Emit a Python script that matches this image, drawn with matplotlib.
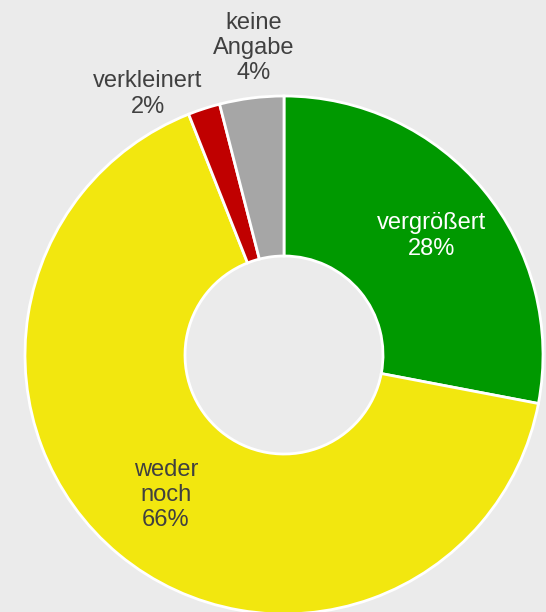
import matplotlib
matplotlib.use("Agg")
import matplotlib.pyplot as plt

categories = ["vergrößert", "weder\nnoch", "verkleinert", "keine\nAngabe"]
values = [28, 66, 2, 4]
colors = ["#009900", "#f2e70f", "#c00000", "#a6a6a6"]
text_colors = ["white", "#404040", "#404040", "#404040"]
# label positions in pixel coords (x, y from top)
label_px = [(432, 236), (166, 495), (148, 94), (254, 48)]

W, H = 546, 612
cx, cy, R, r_in = 284, 355, 259, 99
bg = "#ebebeb"

plt.rcParams['font.family'] = ['Liberation Sans', 'DejaVu Sans']
fig = plt.figure(figsize=(W / 100, H / 100), dpi=100, facecolor=bg)
ax = fig.add_axes([0, 0, 1, 1])
ax.set_facecolor(bg)

ax.pie(values, colors=colors, startangle=90, counterclock=False,
       radius=1, wedgeprops=dict(width=(R - r_in) / R, edgecolor='white', linewidth=2))

ax.set_xlim(-cx / R, (W - cx) / R)
ax.set_ylim(-(H - cy) / R, cy / R)
ax.set_aspect('equal', adjustable='datalim')
ax.axis('off')

for cat, v, tc, (px, py) in zip(categories, values, text_colors, label_px):
    ax.text((px - cx) / R, (cy - py) / R, f"{cat}\n{v}%", ha='center', va='center',
            color=tc, fontsize=17, linespacing=1.2)

fig.savefig("out.png", dpi=100, facecolor=bg)
